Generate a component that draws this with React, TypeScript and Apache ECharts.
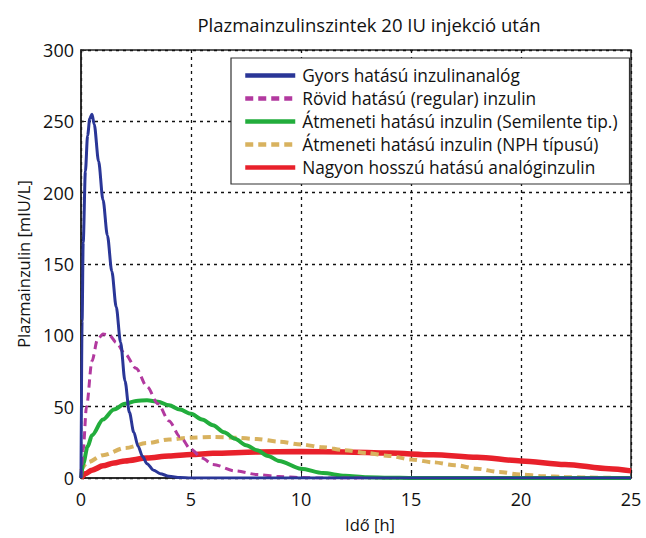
import React, { useEffect, useRef } from "react";
import * as echarts from "echarts";

const seriesNames = [
  "Gyors hatású inzulinanalóg",
  "Rövid hatású (regular) inzulin",
  "Átmeneti hatású inzulin (Semilente tip.)",
  "Átmeneti hatású inzulin (NPH típusú)",
  "Nagyon hosszú hatású analóginzulin",
];

const rapidT = [0, 0.05, 0.1, 0.2, 0.3, 0.4, 0.5, 0.6, 0.8, 1.0, 1.2, 1.4, 1.6, 1.8, 2.0, 2.2, 2.4, 2.6, 2.8, 3.0, 3.3, 3.6, 4.0, 4.5, 5, 10, 15, 20, 25];
const rapidY = [0, 110, 165, 215, 240, 252, 255, 248, 222, 195, 170, 145, 120, 95, 68, 46, 32, 22, 15, 10, 5.5, 3, 1.2, 0.3, 0, 0, 0, 0, 0];

const regularT = [0, 0.1, 0.25, 0.5, 0.75, 1.0, 1.3, 1.6, 2.0, 2.5, 3.0, 3.5, 4.0, 4.5, 5, 5.5, 6, 7, 8, 9, 10, 11, 13];
const regularY = [0, 20, 50, 82, 97, 101, 100, 95, 87, 77, 64, 52, 40, 29, 20, 14, 9.5, 5, 2.5, 1, 0.3, 0, 0];

const semilenteT = [0, 0.1, 0.3, 0.5, 1, 1.5, 2, 2.5, 3, 3.5, 4, 4.5, 5, 5.5, 6, 6.5, 7, 7.5, 8, 8.5, 9, 10, 11, 12, 13, 14, 15, 20, 25];
const semilenteY = [0, 10, 22, 30, 41, 48, 52, 54, 54.5, 53.5, 51, 48, 45, 41, 37, 32, 27.5, 23, 19.5, 15.5, 12, 6.5, 3.5, 1.5, 0.5, 0.2, 0, 0, 0];

const nphT = [0, 0.3, 1, 2, 3, 4, 5, 6, 7, 8, 9, 10, 11, 12, 13, 14, 15, 16, 17, 18, 19, 20, 21, 22, 23, 24, 25];
const nphY = [5, 11, 16, 21, 24.5, 27, 28.3, 28.8, 28.3, 27.3, 25.5, 23.5, 21.5, 19.5, 17.5, 15.5, 13, 11, 9, 6.5, 4.2, 2.4, 1.3, 0.7, 0.3, 0.1, 0];

const longT = [0, 0.2, 0.5, 1, 1.5, 2, 3, 4, 5, 6, 8, 10, 12, 14, 16, 18, 20, 22, 24, 25];
const longY = [0, 3, 5.5, 8.5, 10.5, 12, 14, 15.5, 16.5, 17.3, 18.2, 18.5, 18.3, 17.5, 16.3, 14.5, 12, 9.5, 6.5, 5];

const xTicks = [0, 5, 10, 15, 20, 25];
const yTicks = [0, 50, 100, 150, 200, 250, 300];

const colors = ["#2a3697", "#b2399f", "#22ad3c", "#d8b25f", "#e8212b"];
const widths = [3, 3, 4, 4, 5.5];
const dashed = [false, true, false, true, false];

const pairs = (t: number[], y: number[]) => t.map((v, i) => [v, y[i]]);

export default function App() {
  const ref = useRef<HTMLDivElement>(null);
  useEffect(() => {
    if (!ref.current) return;
    const chart = echarts.init(ref.current, null, { renderer: "svg" });
    const data = [
      pairs(rapidT, rapidY),
      pairs(regularT, regularY),
      pairs(semilenteT, semilenteY),
      pairs(nphT, nphY),
      pairs(longT, longY),
    ];
    const font = "'Open Sans', 'Noto Sans', sans-serif";
    chart.setOption({
      animation: false,
      backgroundColor: "#ffffff",
      textStyle: { fontFamily: font },
      title: {
        text: "Plazmainzulinszintek 20 IU injekció után",
        left: 364,
        textAlign: "center",
        top: 10,
        textStyle: { fontSize: 18.5, fontWeight: 500, color: "#111", fontFamily: font },
      },
      legend: {
        orient: "vertical",
        left: 231,
        top: 58,
        padding: [9, 12, 8, 12],
        itemGap: 6,
        itemWidth: 50,
        itemHeight: 17,
        backgroundColor: "#ffffff",
        borderColor: "#333",
        borderWidth: 1.2,
        borderRadius: 0,
        itemStyle: { opacity: 0 },
        lineStyle: { width: 4.5 },
        textStyle: { fontSize: 17.3, color: "#111", fontFamily: font, padding: [0, 0, 0, 2] },
        data: seriesNames,
      },
      grid: { left: 81, right: 15, top: 50, bottom: 55, show: true, borderColor: "#222", borderWidth: 1.5 },
      xAxis: {
        type: "value",
        min: xTicks[0],
        max: xTicks[xTicks.length - 1],
        interval: 5,
        name: "Idő [h]",
        nameLocation: "middle",
        nameGap: 38,
        nameTextStyle: { fontSize: 16.5, color: "#111", padding: [0, 0, 0, 28] },
        axisLine: { show: true, lineStyle: { color: "#222", width: 1.5 } },
        axisTick: { show: true, inside: true, length: 5, lineStyle: { color: "#222" } },
        axisLabel: { fontSize: 18, color: "#111", margin: 12 },
        splitLine: { show: true, lineStyle: { color: "#111", type: [3, 4], width: 1.3 } },
      },
      yAxis: {
        type: "value",
        min: yTicks[0],
        max: yTicks[yTicks.length - 1],
        interval: 50,
        name: "Plazmainzulin [mIU/L]",
        nameLocation: "middle",
        nameGap: 46,
        nameTextStyle: { fontSize: 16.5, color: "#111" },
        axisLine: { show: true, lineStyle: { color: "#222", width: 1.5 } },
        axisTick: { show: true, inside: true, length: 5, lineStyle: { color: "#222" } },
        axisLabel: { fontSize: 18, color: "#111", margin: 7 },
        splitLine: { show: true, lineStyle: { color: "#111", type: [3, 4], width: 1.3 } },
      },
      series: seriesNames.map((name, i) => ({
        name,
        type: "line",
        data: data[i],
        symbol: "none",
        smooth: 0.3,
        smoothMonotone: "x",
        color: colors[i],
        lineStyle: { color: colors[i], width: widths[i], type: dashed[i] ? [8, 5] : "solid" },
        z: 10 - i,
      })),
    });
    return () => chart.dispose();
  }, []);
  return <div ref={ref} style={{ position: "fixed", left: 0, top: 0, width: 646, height: 538 }} />;
}
